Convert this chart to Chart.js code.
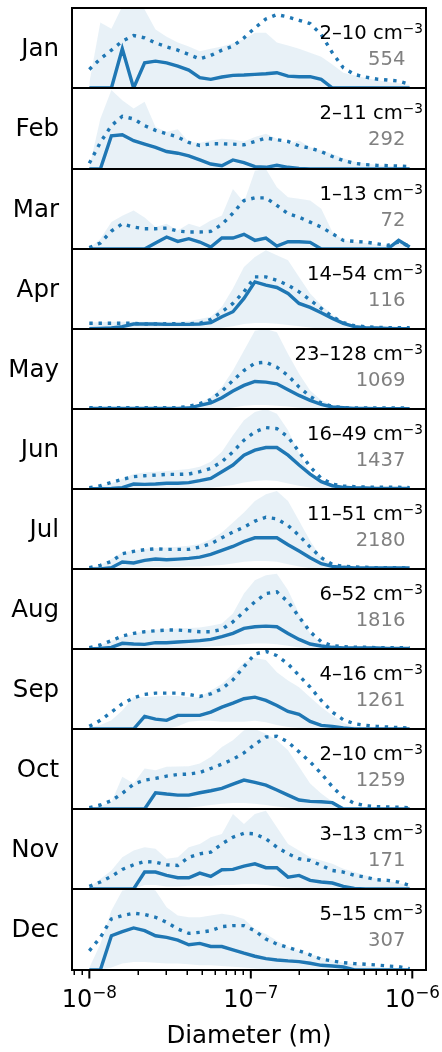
<!DOCTYPE html>
<html>
<head>
<meta charset="utf-8">
<script src="https://cdn.jsdelivr.net/npm/chart.js@4/dist/chart.umd.min.js"></script>
<style>
  html, body { margin: 0; padding: 0; background: #ffffff; }
  #wrap { position: relative; width: 442px; height: 1052px; overflow: hidden; }
  #wrap canvas { position: absolute; left: 0; top: 0; }
</style>
</head>
<body>
<div id="wrap"></div>
<script>
// Particle diameter bins (m)
const diameters = [1.00e-8, 1.17e-8, 1.37e-8, 1.60e-8, 1.88e-8, 2.20e-8, 2.57e-8, 3.01e-8, 3.53e-8, 4.13e-8,
                   4.83e-8, 5.65e-8, 6.62e-8, 7.75e-8, 9.07e-8, 1.06e-7, 1.24e-7, 1.45e-7, 1.70e-7, 1.99e-7,
                   2.33e-7, 2.73e-7, 3.20e-7, 3.74e-7, 4.38e-7, 5.13e-7, 6.00e-7, 7.03e-7, 8.23e-7, 9.63e-7];

const months = ['Jan', 'Feb', 'Mar', 'Apr', 'May', 'Jun', 'Jul', 'Aug', 'Sep', 'Oct', 'Nov', 'Dec'];
const concRanges = ['2\u201310', '2\u201311', '1\u201313', '14\u201354', '23\u2013128', '16\u201349',
                    '11\u201351', '6\u201352', '4\u201316', '2\u201310', '3\u201313', '5\u201315'];
const sampleCounts = [554, 292, 72, 116, 1069, 1437, 2180, 1816, 1261, 1259, 171, 307];

// Relative size distributions, one row per month (percent of each panel's scale)
const medianCurve = [
  [0,0,0,49,0,31.5,33.6,31.5,27.4,22.4,12.9,10.8,13.7,15.8,16.2,17,17.8,19.1,14.9,14.1,14.1,10.8,0,0,0,0,0,0,0,0],
  [0,0,41,42.3,34.9,30.7,26.6,21.6,19.5,16.2,11.2,6.2,4.1,11.2,7.9,2.9,2.1,4.6,2.1,0.8,0,0,0,0,0,0,0,0,0,0],
  [0,0,0,0,0,0,7.5,15,9.5,12.9,8.7,2.5,13.7,13.7,18.3,10.8,13.7,3.7,9.1,9.1,8.3,0,0,0,0,0,0,0,10.8,2.5],
  [0.4,0.8,1.2,2.9,6.2,6.2,6.2,5.8,5.8,5.8,6.2,7.9,15.4,21.6,38.2,58.9,54.8,51.9,44.4,32,27,20.3,13.3,7.1,2.9,1.7,1.2,0.8,0.4,0.4],
  [0.8,0.8,0.8,0.8,0.8,0.8,0.8,0.8,0.8,1.2,4.6,7.5,14.1,22.4,29.5,34.4,33.6,31.5,24.1,17,10.8,5.8,2.5,1.7,0.8,0.8,0.4,0.4,0.4,0.4],
  [0.4,0.4,0.8,1.7,6.2,5.8,6.2,7.1,7.1,7.9,10.4,13.3,21.6,29.9,42.3,48.5,51.9,51.9,42.3,29.9,18.7,9.1,4.1,2.1,1.2,1.2,0.8,0.8,0.8,0.8],
  [0,0,1.7,8.7,7.5,10.8,12.4,11.6,12.4,13.3,14.9,18.3,23.2,28.2,34.4,39,39,39,30.3,22.4,14.1,6.6,3.3,2.1,1.2,1.2,1.2,1.2,1.2,1.2],
  [0,0.8,2.1,7.1,6.2,5.8,7.9,7.9,8.7,9.5,10.4,12,15.4,19.5,25.7,27.8,28.6,27.8,19.5,12,6.2,3.7,2.1,1.2,1.2,1.2,1.2,0.8,0.8,0.8],
  [0,0,0,0,0,15.8,12.4,10.8,17,17,17,21.2,27.4,32.4,37.8,39.8,35.7,29.5,22,18.3,9.5,4.6,3.3,1.2,0,0,0,0,0,0],
  [0,0,0,0,0,0,20.3,18.7,17.4,17.4,20.3,22.8,25.7,31.1,36.1,33.2,29.9,23.7,17.4,11.2,9.5,9.1,7.9,0,0,0,0,0,0,0],
  [0,0,0,0,0,21.2,21.2,17,14.1,14.1,19.9,15.8,24.1,24.5,28.6,31.5,26.6,26.6,14.9,17,10.8,8.7,7.5,3.3,0.8,0,0,0,0,0],
  [0,0,42.3,47.3,51.9,48.5,42.3,40.2,36.9,31.1,32.8,29,29,24.9,20.7,17,14.1,12.4,11.2,10.4,8.3,5.8,5,3.7,0,0,0,0,0,0]
];

const meanCurve = [
  [23.2,36.5,47.3,58.5,65.6,62.7,56.4,51.5,47.3,41.9,36.5,40.7,47.3,52.3,62.7,75.1,86.3,91.7,88.8,84.6,80.5,66.8,44,25.3,17,13.7,11.2,10,8.7,4.6],
  [7.1,32.8,53.5,65.1,61.8,53.5,47.7,43.6,39.4,32.8,29,31.1,31.1,30.7,29.9,34,38.2,36.1,34,28.6,25.7,21.6,15.4,10.4,7.1,5.4,4.6,4.1,3.7,2.9],
  [1.7,7.5,22.4,31.5,27.4,25.3,25.3,26.1,22.4,21.2,21.2,22,30.7,44.8,60.6,63.9,63.9,54.4,44,39.8,33.6,27.4,19.1,10.8,9.5,8.7,6.6,4.6,8.7,3.3],
  [7.1,7.1,7.1,7.1,7.1,6.2,6.2,6.6,6.6,6.6,7.1,12,21.6,32,46.5,65.1,65.1,61,54.8,46.5,36.1,25.7,15.4,7.9,4.1,2.9,2.1,1.7,1.7,1.7],
  [1.7,1.7,1.7,1.7,1.7,1.7,1.7,1.7,1.7,3.3,6.6,11.6,22.4,35.7,48.1,57.3,58.5,52.3,41.9,27.4,15.8,7.5,3.3,1.7,1.2,1.2,1.2,1.2,1.2,1.2],
  [1.7,4.1,8.3,12,15.4,16.6,17.4,18.3,18.3,18.7,21.6,25.7,34,46.5,61,71.4,76.8,75.5,65.1,46.5,27.8,13.3,6.2,3.7,2.9,2.5,2.1,2.1,2.1,1.7],
  [1.7,4.6,9.5,19.1,22,24.1,25.3,24.5,24.5,24.5,27.4,31.5,39,46.1,52.3,59.8,64.7,62.7,54.4,41.9,27.4,14.1,5.8,3.3,2.5,2.1,1.7,1.7,1.7,1.2],
  [1.7,5,10.4,16.2,19.5,21.6,22.8,23.7,23.7,22.8,21.6,21.6,24.5,34,46.5,58.9,69.3,71.4,58.9,40.2,21.6,9.1,4.1,2.9,2.1,2.1,1.7,1.7,1.7,1.2],
  [3.3,10.8,21.2,31.5,39,43.2,44.8,44.8,44.8,43.2,40.7,44,50.2,61.4,78,93.8,97.1,91.7,81.3,66.8,52.3,35.7,21.2,11.6,6.6,4.6,3.3,2.5,1.7,1.2],
  [1.7,5,10.4,19.5,31.1,36.1,38.2,41.1,43.2,43.6,45.6,50.6,56,62.2,70.1,80.9,90,90.9,83.8,71.4,58.9,44.4,27.8,14.5,7.1,4.1,2.9,2.5,2.1,1.7],
  [3.3,8.7,15.8,24.5,30.3,34.4,33.6,30.3,29.5,39.8,44,46.1,56.4,64.7,69.7,68.9,62.7,52.3,44,37.8,35.7,29.5,23.2,21.2,17,14.9,11.6,10.8,8.7,4.6],
  [23.7,40.2,63.1,67.2,70.1,68.5,65.1,58.9,50.6,45.2,46.5,48.5,53.5,54.8,54.8,48.5,38.2,32,27.8,23.7,18.7,13.3,11.2,9.1,7.9,7.1,6.2,5,4.1,1.7]
];

const upperBand = [
  [6.6,82,74,102,115,98,73,64,57,52,46,49,52,56,61,69,69,57,53,49,44,39,29.5,19,15.8,12.4,10,7.5,5.8,4.1],
  [2,62,97.5,85,74.7,83,51.9,45.6,49,33.2,32.4,35.3,37.3,36.5,34,39.4,43.6,37.3,31.1,35.3,27,22.8,18.7,13.3,9.1,7.1,5,3.7,2.9,2.1],
  [0.8,12.4,33.6,41.5,48.1,39.4,27.4,31.5,23.2,31.5,27.4,35.7,41.9,75.1,58.5,97.9,100,77.2,64.7,62.7,60.6,50.2,21.2,10.8,8.7,7.5,5.8,5,8.3,3.3],
  [8.3,8.3,9.1,9.1,9.1,9.1,9.1,9.1,9.1,10,12.4,15.4,27.8,50.6,77.6,90,98.3,92.1,85.9,65.1,44.4,29.9,17.4,7.1,3.7,2.5,2.1,1.7,1.7,1.2],
  [1.7,1.7,1.7,1.7,1.7,1.7,1.7,1.7,1.7,3.3,6.6,14.9,27.4,48.1,73,97.9,100,95.9,68.9,44,23.2,10.8,4.6,2.1,1.2,1.2,1.2,1.2,1.2,1.2],
  [0.8,4.1,7.1,12.4,18.7,20.7,21.6,22.4,23.7,24.9,27.8,34,46.5,67.2,85.9,96.3,100,94.2,73.4,44.4,19.5,9.1,4.1,2.5,2.1,1.7,1.7,1.2,1.2,1.2],
  [1.7,5,12.4,20.7,22.8,24.9,26.1,27,27.8,29,31.1,37.3,45.6,58.1,70.5,85.1,93.4,97.5,85.1,60.2,35.3,14.5,5.8,3.3,2.5,2.1,1.7,1.7,1.7,1.2],
  [0.8,5,10.4,15.4,18.7,22.8,24.1,24.9,25.7,26.1,27,29,32,44.4,69.3,85.9,92.1,94.2,73.4,44.4,19.5,7.1,2.9,2.1,1.7,1.7,1.2,1.2,1.2,1.2],
  [1.7,5,10.8,23.2,39.8,39.8,40.7,41.9,41.1,39.8,39.8,48.1,56.4,68.9,83.4,88.8,86.3,71,60.6,52.3,39.8,27.4,17,7.5,3.3,2.1,1.7,1.2,1.2,0.8],
  [0.8,4.1,8.3,40.2,32,50.6,48.5,52.7,53.1,53.5,56.8,65.1,77.6,85.9,98.3,100,94.2,85.9,73.4,52.7,32,19.5,9.1,2.9,2.1,1.7,1.2,1.2,0.8,0.8],
  [1.7,12.4,23.2,39.8,48.1,52.3,50.2,37.8,39.8,52.3,56.4,64.7,68.9,93.8,81.3,93.8,97.9,77.2,56.4,48.1,39.8,35.7,31.5,25.3,21.2,17,12.9,10,7.5,4.1],
  [2.9,32,73.4,98.3,100,101.7,98.3,77.6,67.2,65.1,65.1,67.2,69.3,67.2,63.1,50.6,44.4,36.1,27.8,23.7,19.5,15.4,12,9.1,7.1,5,3.7,2.9,2.1,0.8]
];

const lowerBand = [
  [0,0,0,0,0,0,0,0,0,0,0,0,0,0,0,0,0,0,0,0,0,0,0,0,0,0,0,0,0,0],
  [0,0,0,0,0,0,0,0,0,0,0,0,0,0,0,0,0,0,0,0,0,0,0,0,0,0,0,0,0,0],
  [0,0,0,0,0,0,0,0,0,0,0,0,0,0,0,0,0,0,0,0,0,0,0,0,0,0,0,0,0,0],
  [0,0,0,0,0,0,0,0,0,0,0,0,1.5,3.3,6.2,7.5,7.5,6.6,5,3.3,2,0,0,0,0,0,0,0,0,0],
  [0,0,0,0,0,0,0,0,0,0,0,0,0,2,4,5,5,4,3,1.5,0,0,0,0,0,0,0,0,0,0],
  [0,0,0,0,0,0,0,0,0,0,0,1.5,3,5,8,10,11,10,7,4,2,0,0,0,0,0,0,0,0,0],
  [0,0,0,1,2,2,2.5,2.5,2.5,3,3,4,5,7,9,10,10,9,6,3,1,0,0,0,0,0,0,0,0,0],
  [0,0,0,0,0,0,0,0,0,0,2,3,4,5,6,7,7,6,4,2,0,0,0,0,0,0,0,0,0,0],
  [0,0,0,0,0,0,0,0,3.3,9.1,10.4,10.4,9.1,9.1,9.1,10.4,8.3,5,2.5,1.2,0,0,0,0,0,0,0,0,0,0],
  [0,0,0,0,0,0,0,0,0,1.5,3,5,6.6,7.5,7.5,6.6,5,3,1.5,0,0,0,0,0,0,0,0,0,0,0],
  [0,0,0,0,0,5,5,3,3,4,4,4,5,5,6,6,5,3,2,1,0,0,0,0,0,0,0,0,0,0],
  [0,0,3,8,10,10,9,8,8,7,6,6,5,4,3,2,1,0,0,0,0,0,0,0,0,0,0,0,0,0]
];

// Bottom axis ticks
const majorTicks = [1e-8, 1e-7, 1e-6];
const majorExponents = ['\u22128', '\u22127', '\u22126'];
const minorTicks = [8e-9, 9e-9,
                    2e-8, 3e-8, 4e-8, 5e-8, 6e-8, 7e-8, 8e-8, 9e-8,
                    2e-7, 3e-7, 4e-7, 5e-7, 6e-7, 7e-7, 8e-7, 9e-7];

// ---- layout ----
const W = 442, H = 1052;
const PLOT_LEFT = 72, PLOT_RIGHT = 426;
const panelEdges = [8, 88, 169, 249, 329, 409, 489, 569, 649, 729, 809, 889, 970];
const X_MIN = 7.81e-9, X_MAX = 1.216e-6;
const BLUE = '#1f77b4';
const BAND = 'rgba(31,119,180,0.1)';
const FONT = '"DejaVu Sans", "Liberation Sans", sans-serif';

function pts(values) {
  return diameters.map((d, i) => ({ x: d, y: values[i] }));
}

function drawSuperscriptLabel(ctx, base, sup, xRight, baseline, baseSize, supSize, raise, color) {
  ctx.fillStyle = color;
  ctx.textBaseline = 'alphabetic';
  ctx.textAlign = 'left';
  ctx.font = supSize + 'px ' + FONT;
  const supW = ctx.measureText(sup).width;
  ctx.font = baseSize + 'px ' + FONT;
  const baseW = ctx.measureText(base).width;
  const x0 = xRight - supW - baseW;
  ctx.fillText(base, x0, baseline);
  ctx.font = supSize + 'px ' + FONT;
  ctx.fillText(sup, x0 + baseW, baseline - raise);
}

function drawCenteredPower(ctx, xc, baseline) {
  return function (exp) {
    ctx.font = '24px ' + FONT;
    const bw = ctx.measureText('10').width;
    ctx.font = '16.8px ' + FONT;
    const sw = ctx.measureText(exp).width;
    const x0 = xc - (bw + sw) / 2;
    ctx.font = '24px ' + FONT;
    ctx.fillText('10', x0, baseline);
    ctx.font = '16.8px ' + FONT;
    ctx.fillText(exp, x0 + bw, baseline - 9.3);
  };
}

const wrap = document.getElementById('wrap');

months.forEach((month, k) => {
  const top = panelEdges[k];
  const bottom = panelEdges[k + 1];
  const isLast = k === months.length - 1;

  const canvas = document.createElement('canvas');
  canvas.width = W;
  canvas.height = H;
  canvas.style.width = W + 'px';
  canvas.style.height = H + 'px';
  wrap.appendChild(canvas);

  const decor = {
    id: 'panelDecor' + k,
    afterDraw(chart) {
      const ctx = chart.ctx;
      const area = chart.chartArea;
      ctx.save();

      // frame
      ctx.strokeStyle = '#000000';
      ctx.lineWidth = 2;
      ctx.strokeRect(area.left, area.top, area.right - area.left, area.bottom - area.top);

      // month label
      const mid = (area.top + area.bottom) / 2;
      ctx.fillStyle = '#000000';
      ctx.font = '24.5px ' + FONT;
      ctx.textAlign = 'right';
      ctx.textBaseline = 'alphabetic';
      ctx.fillText(month, 59, mid + 7.8);

      // concentration range and sample count
      drawSuperscriptLabel(ctx, concRanges[k] + ' cm', '\u22123', 423, area.top + 31,
                           19.6, 13.7, 6.5, '#000000');
      ctx.font = '19.6px ' + FONT;
      ctx.textAlign = 'right';
      ctx.fillStyle = '#808080';
      ctx.fillText(String(sampleCounts[k]), 405.5, area.top + 56.5);

      if (isLast) {
        const xs = chart.scales.x;
        ctx.strokeStyle = '#000000';
        ctx.lineWidth = 1.5;
        minorTicks.forEach(v => {
          const px = Math.round(xs.getPixelForValue(v)) + 0.25;
          ctx.beginPath();
          ctx.moveTo(px, area.bottom);
          ctx.lineTo(px, area.bottom + 5);
          ctx.stroke();
        });
        ctx.lineWidth = 2;
        majorTicks.forEach(v => {
          const px = xs.getPixelForValue(v);
          ctx.beginPath();
          ctx.moveTo(px, area.bottom);
          ctx.lineTo(px, area.bottom + 8.5);
          ctx.stroke();
        });
        ctx.fillStyle = '#000000';
        ctx.textAlign = 'left';
        majorTicks.forEach((v, i) => {
          drawCenteredPower(ctx, xs.getPixelForValue(v), 1007.3)(majorExponents[i]);
        });
        ctx.font = '24.5px ' + FONT;
        ctx.textAlign = 'center';
        ctx.fillText('Diameter (m)', (area.left + area.right) / 2, 1043.3);
      }
      ctx.restore();
    }
  };

  new Chart(canvas, {
    type: 'line',
    data: {
      datasets: [
        {
          label: 'median',
          data: pts(medianCurve[k]),
          borderColor: BLUE,
          borderWidth: 3.4,
          borderCapStyle: 'butt',
          borderJoinStyle: 'miter',
          fill: false,
          pointRadius: 0,
          tension: 0
        },
        {
          label: 'mean',
          data: pts(meanCurve[k]),
          borderColor: BLUE,
          borderWidth: 3.4,
          borderDash: [3.4, 5.8],
          borderCapStyle: 'butt',
          fill: false,
          pointRadius: 0,
          tension: 0
        },
        {
          label: 'upper',
          data: pts(upperBand[k]),
          borderColor: 'rgba(0,0,0,0)',
          borderWidth: 1,
          backgroundColor: BAND,
          fill: '+1',
          pointRadius: 0,
          tension: 0
        },
        {
          label: 'lower',
          data: pts(lowerBand[k]),
          borderColor: 'rgba(0,0,0,0)',
          borderWidth: 1,
          fill: false,
          pointRadius: 0,
          tension: 0
        }
      ]
    },
    options: {
      responsive: false,
      animation: false,
      events: [],
      devicePixelRatio: 1,
      layout: { padding: { left: PLOT_LEFT, right: W - PLOT_RIGHT, top: top, bottom: H - bottom } },
      scales: {
        x: { type: 'logarithmic', min: X_MIN, max: X_MAX, display: false },
        y: { type: 'linear', min: 0, max: 100, display: false }
      },
      plugins: {
        legend: { display: false },
        tooltip: { enabled: false },
        title: { display: false }
      }
    },
    plugins: [decor]
  });
});
</script>
</body>
</html>
